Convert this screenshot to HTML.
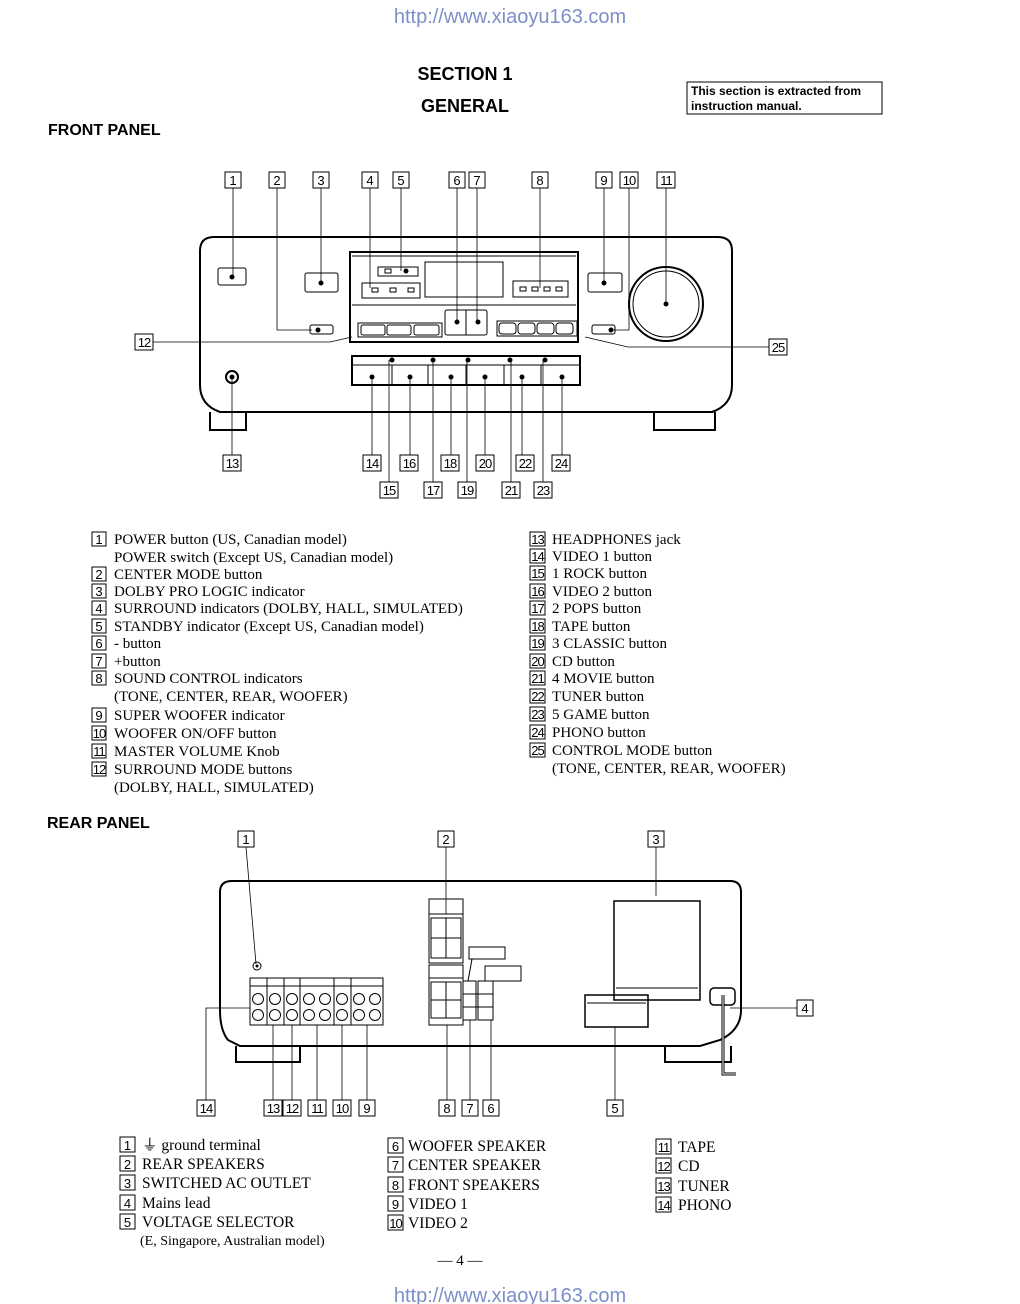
<!DOCTYPE html>
<html><head><meta charset="utf-8"><style>
html,body{margin:0;padding:0;background:#fff;}
svg{display:block}
.c rect{fill:#fff;stroke:#000;stroke-width:1}
.c text{font-family:"Liberation Sans",sans-serif;font-size:13px;text-anchor:middle}
.l{font-family:"Liberation Serif",serif;font-size:15px}
.b{fill:none;stroke:#000;stroke-width:1}
.t{fill:none;stroke:#000;stroke-width:2}
.ln{stroke:#000;stroke-width:0.8;fill:none}
</style></head><body>
<svg width="1020" height="1304" viewBox="0 0 1020 1304" xmlns="http://www.w3.org/2000/svg">
<text x="510" y="23" font-family="Liberation Sans,sans-serif" font-size="20" fill="#7d8fc8" text-anchor="middle">http://www.xiaoyu163.com</text>
<text x="510" y="1302" font-family="Liberation Sans,sans-serif" font-size="20" fill="#7d8fc8" text-anchor="middle">http://www.xiaoyu163.com</text>
<text x="465" y="80" font-family="Liberation Sans,sans-serif" font-size="18" font-weight="bold" text-anchor="middle">SECTION 1</text>
<text x="465" y="112" font-family="Liberation Sans,sans-serif" font-size="18" font-weight="bold" text-anchor="middle">GENERAL</text>
<rect x="687" y="82" width="195" height="32" fill="none" stroke="#000"/>
<text x="691" y="95" font-family="Liberation Sans,sans-serif" font-size="12" font-weight="bold">This section is extracted from</text>
<text x="691" y="110" font-family="Liberation Sans,sans-serif" font-size="12" font-weight="bold">instruction manual.</text>
<text x="48" y="135" font-family="Liberation Sans,sans-serif" font-size="16" font-weight="bold">FRONT PANEL</text>
<text x="47" y="828" font-family="Liberation Sans,sans-serif" font-size="16" font-weight="bold">REAR PANEL</text>
<text x="460" y="1265" font-family="Liberation Serif,serif" font-size="15" text-anchor="middle">— 4 —</text>

<!-- FRONT PANEL body -->
<path class="t" d="M214 237 H718 Q732 237 732 251 V385 Q732 405 712 412 H220 Q200 405 200 385 V251 Q200 237 214 237 Z"/>
<path class="t" d="M210 412 V430 H246 V412 M654 412 V430 H715 V412"/>
<rect class="b" x="218" y="268" width="28" height="17" rx="2"/><circle cx="232" cy="277" r="2.5"/>
<rect class="b" x="305" y="273" width="33" height="19" rx="2"/><circle cx="321" cy="283" r="2.5"/>
<rect class="b" x="588" y="273" width="34" height="19" rx="2"/><circle cx="604" cy="283" r="2.5"/>
<rect class="b" x="310" y="325" width="23" height="9" rx="2"/><circle cx="318" cy="330" r="2.5"/>
<rect class="b" x="592" y="325" width="23" height="9" rx="2"/><circle cx="611" cy="330" r="2.5"/>
<circle class="t" cx="666" cy="304" r="37"/><circle class="b" cx="666" cy="304" r="33"/><circle cx="666" cy="304" r="2.5"/>
<rect class="t" x="350" y="252" width="228" height="90"/>
<line class="b" x1="352" y1="256" x2="576" y2="256"/>
<line class="b" x1="352" y1="305" x2="576" y2="305"/>
<rect class="b" x="378" y="267" width="40" height="9"/><rect class="b" x="385" y="269" width="6" height="4"/><circle cx="406" cy="271" r="2.5"/>
<rect class="b" x="362" y="283" width="58" height="15"/>
<rect class="b" x="372" y="288" width="6" height="4"/><rect class="b" x="390" y="288" width="6" height="4"/><rect class="b" x="408" y="288" width="6" height="4"/>
<rect class="b" x="425" y="262" width="78" height="35"/>
<rect class="b" x="513" y="281" width="55" height="16"/>
<rect class="b" x="520" y="287" width="6" height="4"/><rect class="b" x="532" y="287" width="6" height="4"/><rect class="b" x="544" y="287" width="6" height="4"/><rect class="b" x="556" y="287" width="6" height="4"/>
<rect class="b" x="358" y="323" width="84" height="14"/>
<rect class="b" x="361" y="325" width="24" height="10" rx="2"/><rect class="b" x="387" y="325" width="24" height="10" rx="2"/><rect class="b" x="414" y="325" width="25" height="10" rx="2"/>
<rect class="b" x="445" y="310" width="42" height="25" rx="2"/><line class="b" x1="466" y1="310" x2="466" y2="335"/>
<circle cx="457" cy="322" r="2.5"/><circle cx="478" cy="322" r="2.5"/>
<rect class="b" x="497" y="321" width="80" height="15"/>
<rect class="b" x="499" y="323" width="17" height="11" rx="3"/><rect class="b" x="518" y="323" width="17" height="11" rx="3"/><rect class="b" x="537" y="323" width="17" height="11" rx="3"/><rect class="b" x="556" y="323" width="17" height="11" rx="3"/>
<rect class="t" x="352" y="356" width="228" height="29"/>
<line class="b" x1="352" y1="365" x2="580" y2="365"/>
<g class="b"><line x1="392" y1="365" x2="392" y2="385"/><line x1="428" y1="365" x2="428" y2="385"/><line x1="466" y1="365" x2="466" y2="385"/><line x1="504" y1="365" x2="504" y2="385"/><line x1="541" y1="365" x2="541" y2="385"/></g>
<g><circle cx="372" cy="377" r="2.5"/><circle cx="410" cy="377" r="2.5"/><circle cx="451" cy="377" r="2.5"/><circle cx="485" cy="377" r="2.5"/><circle cx="522" cy="377" r="2.5"/><circle cx="562" cy="377" r="2.5"/>
<circle cx="392" cy="360" r="2.5"/><circle cx="433" cy="360" r="2.5"/><circle cx="468" cy="360" r="2.5"/><circle cx="510" cy="360" r="2.5"/><circle cx="545" cy="360" r="2.5"/></g>
<circle class="t" cx="232" cy="377" r="6"/><circle cx="232" cy="377" r="2.5"/>
<g class="ln">
<line x1="233" y1="188" x2="233" y2="277"/>
<path d="M277 188 V330 H312"/>
<line x1="321" y1="188" x2="321" y2="283"/>
<line x1="370" y1="188" x2="370" y2="288"/>
<line x1="401" y1="188" x2="401" y2="271"/>
<line x1="457" y1="188" x2="457" y2="322"/>
<line x1="477" y1="188" x2="477" y2="322"/>
<line x1="540" y1="188" x2="540" y2="288"/>
<line x1="604" y1="188" x2="604" y2="283"/>
<path d="M629 188 V330 H612"/>
<line x1="666" y1="188" x2="666" y2="304"/>
<path d="M152 342 H330 L352 337"/>
<path d="M769 347 H628 L585 337"/>
<line x1="232" y1="377" x2="232" y2="455"/>
<line x1="372" y1="377" x2="372" y2="455"/><line x1="410" y1="377" x2="410" y2="455"/><line x1="451" y1="377" x2="451" y2="455"/><line x1="485" y1="377" x2="485" y2="455"/><line x1="522" y1="377" x2="522" y2="455"/><line x1="562" y1="377" x2="562" y2="455"/>
<line x1="389" y1="360" x2="389" y2="482"/><line x1="433" y1="360" x2="433" y2="482"/><line x1="467" y1="360" x2="467" y2="482"/><line x1="511" y1="360" x2="511" y2="482"/><line x1="543" y1="360" x2="543" y2="482"/>
</g>
<g class="c">
<rect x="225" y="172" width="16" height="16"/><text x="233" y="185">1</text>
<rect x="269" y="172" width="16" height="16"/><text x="277" y="185">2</text>
<rect x="313" y="172" width="16" height="16"/><text x="321" y="185">3</text>
<rect x="362" y="172" width="16" height="16"/><text x="370" y="185">4</text>
<rect x="393" y="172" width="16" height="16"/><text x="401" y="185">5</text>
<rect x="449" y="172" width="16" height="16"/><text x="457" y="185">6</text>
<rect x="469" y="172" width="16" height="16"/><text x="477" y="185">7</text>
<rect x="532" y="172" width="16" height="16"/><text x="540" y="185">8</text>
<rect x="596" y="172" width="16" height="16"/><text x="604" y="185">9</text>
<rect x="620" y="172" width="18" height="16"/><text x="629" y="185" letter-spacing="-1">10</text>
<rect x="657" y="172" width="18" height="16"/><text x="666" y="185" letter-spacing="-1">11</text>
<rect x="135" y="334" width="18" height="16"/><text x="144" y="347" letter-spacing="-1">12</text>
<rect x="769" y="339" width="18" height="16"/><text x="778" y="352" letter-spacing="-1">25</text>
<rect x="223" y="455" width="18" height="16"/><text x="232" y="468" letter-spacing="-1">13</text>
<rect x="363" y="455" width="18" height="16"/><text x="372" y="468" letter-spacing="-1">14</text>
<rect x="400" y="455" width="18" height="16"/><text x="409" y="468" letter-spacing="-1">16</text>
<rect x="441" y="455" width="18" height="16"/><text x="450" y="468" letter-spacing="-1">18</text>
<rect x="476" y="455" width="18" height="16"/><text x="485" y="468" letter-spacing="-1">20</text>
<rect x="516" y="455" width="18" height="16"/><text x="525" y="468" letter-spacing="-1">22</text>
<rect x="552" y="455" width="18" height="16"/><text x="561" y="468" letter-spacing="-1">24</text>
<rect x="380" y="482" width="18" height="16"/><text x="389" y="495" letter-spacing="-1">15</text>
<rect x="424" y="482" width="18" height="16"/><text x="433" y="495" letter-spacing="-1">17</text>
<rect x="458" y="482" width="18" height="16"/><text x="467" y="495" letter-spacing="-1">19</text>
<rect x="502" y="482" width="18" height="16"/><text x="511" y="495" letter-spacing="-1">21</text>
<rect x="534" y="482" width="18" height="16"/><text x="543" y="495" letter-spacing="-1">23</text>
</g>

<g class="c">
<rect x="92" y="532" width="14" height="14"/><text x="99" y="544">1</text>
<rect x="92" y="567" width="14" height="14"/><text x="99" y="579">2</text>
<rect x="92" y="584" width="14" height="14"/><text x="99" y="596">3</text>
<rect x="92" y="601" width="14" height="14"/><text x="99" y="613">4</text>
<rect x="92" y="619" width="14" height="14"/><text x="99" y="631">5</text>
<rect x="92" y="636" width="14" height="14"/><text x="99" y="648">6</text>
<rect x="92" y="654" width="14" height="14"/><text x="99" y="666">7</text>
<rect x="92" y="671" width="14" height="14"/><text x="99" y="683">8</text>
<rect x="92" y="708" width="14" height="14"/><text x="99" y="720">9</text>
<rect x="92" y="726" width="14" height="14"/><text x="99" y="738" letter-spacing="-1" font-size="12">10</text>
<rect x="92" y="744" width="14" height="14"/><text x="99" y="756" letter-spacing="-1" font-size="12">11</text>
<rect x="92" y="762" width="14" height="14"/><text x="99" y="774" letter-spacing="-1" font-size="12">12</text>
</g>
<g class="l">
<text x="114" y="544">POWER button (US, Canadian model)</text>
<text x="114" y="562">POWER switch (Except US, Canadian model)</text>
<text x="114" y="579">CENTER MODE button</text>
<text x="114" y="596">DOLBY PRO LOGIC indicator</text>
<text x="114" y="613">SURROUND indicators (DOLBY, HALL, SIMULATED)</text>
<text x="114" y="631">STANDBY indicator  (Except US, Canadian model)</text>
<text x="114" y="648">- button</text>
<text x="114" y="666">+button</text>
<text x="114" y="683">SOUND CONTROL indicators</text>
<text x="114" y="701">(TONE, CENTER, REAR, WOOFER)</text>
<text x="114" y="720">SUPER WOOFER indicator</text>
<text x="114" y="738">WOOFER ON/OFF button</text>
<text x="114" y="756">MASTER VOLUME Knob</text>
<text x="114" y="774">SURROUND MODE buttons</text>
<text x="114" y="792">(DOLBY, HALL, SIMULATED)</text>
</g>
<g class="c">
<rect x="530" y="532" width="15" height="14"/><text x="537.5" y="544" letter-spacing="-1" font-size="12">13</text>
<rect x="530" y="549" width="15" height="14"/><text x="537.5" y="561" letter-spacing="-1" font-size="12">14</text>
<rect x="530" y="566" width="15" height="14"/><text x="537.5" y="578" letter-spacing="-1" font-size="12">15</text>
<rect x="530" y="584" width="15" height="14"/><text x="537.5" y="596" letter-spacing="-1" font-size="12">16</text>
<rect x="530" y="601" width="15" height="14"/><text x="537.5" y="613" letter-spacing="-1" font-size="12">17</text>
<rect x="530" y="619" width="15" height="14"/><text x="537.5" y="631" letter-spacing="-1" font-size="12">18</text>
<rect x="530" y="636" width="15" height="14"/><text x="537.5" y="648" letter-spacing="-1" font-size="12">19</text>
<rect x="530" y="654" width="15" height="14"/><text x="537.5" y="666" letter-spacing="-1" font-size="12">20</text>
<rect x="530" y="671" width="15" height="14"/><text x="537.5" y="683" letter-spacing="-1" font-size="12">21</text>
<rect x="530" y="689" width="15" height="14"/><text x="537.5" y="701" letter-spacing="-1" font-size="12">22</text>
<rect x="530" y="707" width="15" height="14"/><text x="537.5" y="719" letter-spacing="-1" font-size="12">23</text>
<rect x="530" y="725" width="15" height="14"/><text x="537.5" y="737" letter-spacing="-1" font-size="12">24</text>
<rect x="530" y="743" width="15" height="14"/><text x="537.5" y="755" letter-spacing="-1" font-size="12">25</text>
</g>
<g class="l">
<text x="552" y="544">HEADPHONES jack</text>
<text x="552" y="561">VIDEO 1 button</text>
<text x="552" y="578">1 ROCK button</text>
<text x="552" y="596">VIDEO 2 button</text>
<text x="552" y="613">2 POPS button</text>
<text x="552" y="631">TAPE button</text>
<text x="552" y="648">3 CLASSIC button</text>
<text x="552" y="666">CD button</text>
<text x="552" y="683">4 MOVIE button</text>
<text x="552" y="701">TUNER button</text>
<text x="552" y="719">5 GAME button</text>
<text x="552" y="737">PHONO button</text>
<text x="552" y="755">CONTROL MODE button</text>
<text x="552" y="773">(TONE, CENTER, REAR, WOOFER)</text>
</g>

<!-- REAR PANEL -->
<path class="t" d="M232 881 H730 Q741 881 741 892 V1010 Q741 1030 720 1040 L700 1046 H240 L228 1040 Q220 1030 220 1010 V892 Q220 881 232 881 Z"/>
<path class="t" d="M236 1046 V1062 H300 V1046 M665 1046 V1062 H731 V1046"/>
<circle class="b" cx="257" cy="966" r="4"/><circle cx="257" cy="966" r="1.5"/>
<rect class="b" x="250" y="978" width="133" height="47"/>
<line class="b" x1="250" y1="986" x2="383" y2="986"/>
<g class="b"><line x1="267" y1="978" x2="267" y2="1025"/><line x1="284" y1="978" x2="284" y2="1025"/><line x1="300" y1="978" x2="300" y2="1025"/><line x1="334" y1="978" x2="334" y2="1025"/><line x1="351" y1="978" x2="351" y2="1025"/></g>
<g class="b">
<circle cx="258" cy="999" r="5.5"/><circle cx="258" cy="1015" r="5.5"/>
<circle cx="275" cy="999" r="5.5"/><circle cx="275" cy="1015" r="5.5"/>
<circle cx="292" cy="999" r="5.5"/><circle cx="292" cy="1015" r="5.5"/>
<circle cx="309" cy="999" r="5.5"/><circle cx="309" cy="1015" r="5.5"/>
<circle cx="325" cy="999" r="5.5"/><circle cx="325" cy="1015" r="5.5"/>
<circle cx="342" cy="999" r="5.5"/><circle cx="342" cy="1015" r="5.5"/>
<circle cx="359" cy="999" r="5.5"/><circle cx="359" cy="1015" r="5.5"/>
<circle cx="375" cy="999" r="5.5"/><circle cx="375" cy="1015" r="5.5"/>
</g>
<g class="b">
<rect x="429" y="899" width="34" height="64"/><line x1="429" y1="914" x2="463" y2="914"/>
<rect x="431" y="918" width="30" height="40"/><line x1="446" y1="918" x2="446" y2="958"/><line x1="431" y1="938" x2="461" y2="938"/>
<rect x="429" y="965" width="34" height="60"/><line x1="429" y1="978" x2="463" y2="978"/>
<rect x="431" y="982" width="30" height="36"/><line x1="446" y1="982" x2="446" y2="1018"/><line x1="431" y1="1000" x2="461" y2="1000"/>
<rect x="463" y="981" width="13" height="39"/><rect x="478" y="981" width="15" height="39"/>
<line x1="463" y1="994" x2="493" y2="994"/><line x1="463" y1="1007" x2="493" y2="1007"/>
<rect x="469" y="947" width="36" height="12"/><rect x="485" y="966" width="36" height="15"/>
<path d="M472 959 L468 981"/>
<rect x="614" y="901" width="86" height="99" stroke-width="1.5"/><line x1="616" y1="988" x2="698" y2="988"/>
<rect x="585" y="995" width="63" height="32" stroke-width="1.5"/><line x1="587" y1="1003" x2="646" y2="1003"/>
<rect x="710" y="988" width="25" height="17" rx="4" stroke-width="1.5"/>
</g>
<path d="M723 995 V1074 H736" fill="none" stroke="#000" stroke-width="3"/>
<path d="M723 995 V1074 H736" fill="none" stroke="#fff" stroke-width="1"/>
<g class="ln">
<line x1="246" y1="847" x2="256" y2="964"/>
<line x1="446" y1="847" x2="446" y2="914"/>
<path d="M656 847 V896"/>
<path d="M797 1008 H730"/>
<path d="M206 1100 V1008 H250"/>
<line x1="273" y1="1025" x2="273" y2="1100"/><line x1="292" y1="1025" x2="292" y2="1100"/><line x1="317" y1="1025" x2="317" y2="1100"/><line x1="342" y1="1025" x2="342" y2="1100"/><line x1="367" y1="1025" x2="367" y2="1100"/>
<line x1="447" y1="1025" x2="447" y2="1100"/><line x1="470" y1="1020" x2="470" y2="1100"/><line x1="491" y1="1020" x2="491" y2="1100"/>
<line x1="615" y1="1027" x2="615" y2="1100"/>
</g>
<g class="c">
<rect x="238" y="831" width="16" height="16"/><text x="246" y="844">1</text>
<rect x="438" y="831" width="16" height="16"/><text x="446" y="844">2</text>
<rect x="648" y="831" width="16" height="16"/><text x="656" y="844">3</text>
<rect x="797" y="1000" width="16" height="16"/><text x="805" y="1013">4</text>
<rect x="197" y="1100" width="18" height="16"/><text x="206" y="1113" letter-spacing="-1">14</text>
<rect x="264" y="1100" width="18" height="16"/><text x="273" y="1113" letter-spacing="-1">13</text>
<rect x="283" y="1100" width="18" height="16"/><text x="292" y="1113" letter-spacing="-1">12</text>
<rect x="308" y="1100" width="18" height="16"/><text x="317" y="1113" letter-spacing="-1">11</text>
<rect x="333" y="1100" width="18" height="16"/><text x="342" y="1113" letter-spacing="-1">10</text>
<rect x="359" y="1100" width="16" height="16"/><text x="367" y="1113">9</text>
<rect x="439" y="1100" width="16" height="16"/><text x="447" y="1113">8</text>
<rect x="462" y="1100" width="16" height="16"/><text x="470" y="1113">7</text>
<rect x="483" y="1100" width="16" height="16"/><text x="491" y="1113">6</text>
<rect x="607" y="1100" width="16" height="16"/><text x="615" y="1113">5</text>
</g>
<g class="c">
<rect x="120" y="1137" width="15" height="15"/><text x="127.5" y="1150">1</text>
<rect x="120" y="1156" width="15" height="15"/><text x="127.5" y="1169">2</text>
<rect x="120" y="1175" width="15" height="15"/><text x="127.5" y="1188">3</text>
<rect x="120" y="1195" width="15" height="15"/><text x="127.5" y="1208">4</text>
<rect x="120" y="1214" width="15" height="15"/><text x="127.5" y="1227">5</text>
<rect x="388" y="1138" width="15" height="15"/><text x="395.5" y="1151">6</text>
<rect x="388" y="1157" width="15" height="15"/><text x="395.5" y="1170">7</text>
<rect x="388" y="1177" width="15" height="15"/><text x="395.5" y="1190">8</text>
<rect x="388" y="1196" width="15" height="15"/><text x="395.5" y="1209">9</text>
<rect x="388" y="1215" width="15" height="15"/><text x="395.5" y="1228" letter-spacing="-1" font-size="12">10</text>
<rect x="656" y="1139" width="15" height="15"/><text x="663.5" y="1152" letter-spacing="-1" font-size="12">11</text>
<rect x="656" y="1158" width="15" height="15"/><text x="663.5" y="1171" letter-spacing="-1" font-size="12">12</text>
<rect x="656" y="1178" width="15" height="15"/><text x="663.5" y="1191" letter-spacing="-1" font-size="12">13</text>
<rect x="656" y="1197" width="15" height="15"/><text x="663.5" y="1210" letter-spacing="-1" font-size="12">14</text>
</g>
<g class="l" style="font-size:15.5px">
<text x="142" y="1150">⏚ ground terminal</text>
<text x="142" y="1169">REAR SPEAKERS</text>
<text x="142" y="1188">SWITCHED AC OUTLET</text>
<text x="142" y="1208">Mains lead</text>
<text x="142" y="1227">VOLTAGE SELECTOR</text>
<text x="140" y="1245" style="font-size:14px">(E, Singapore, Australian model)</text>
<text x="408" y="1151">WOOFER SPEAKER</text>
<text x="408" y="1170">CENTER SPEAKER</text>
<text x="408" y="1190">FRONT SPEAKERS</text>
<text x="408" y="1209">VIDEO 1</text>
<text x="408" y="1228">VIDEO 2</text>
<text x="678" y="1152">TAPE</text>
<text x="678" y="1171">CD</text>
<text x="678" y="1191">TUNER</text>
<text x="678" y="1210">PHONO</text>
</g>
</svg>
</body></html>
